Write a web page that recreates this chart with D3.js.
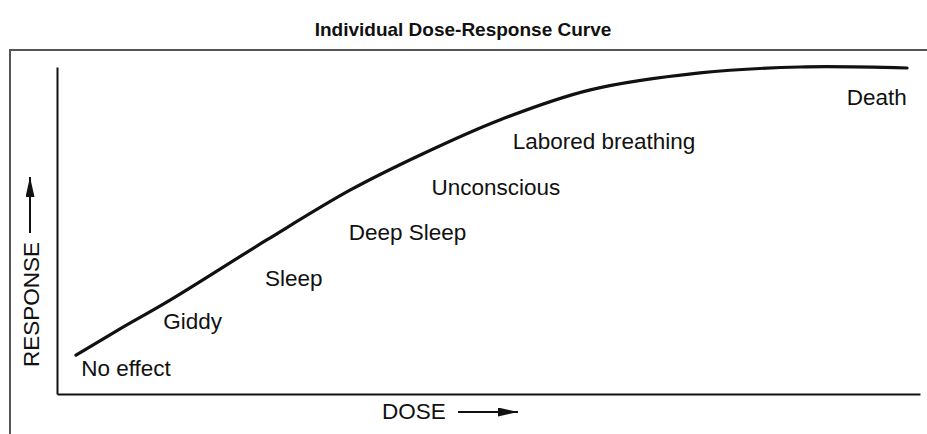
<!DOCTYPE html>
<html>
<head>
<meta charset="utf-8">
<script src="https://cdn.jsdelivr.net/npm/d3@7"></script>
<style>
  body { margin:0; background:#fff; }
  svg text { font-family: "Liberation Sans", Arial, sans-serif; fill:#111; }
</style>
</head>
<body>
<div id="chart"></div>
<script>
// curve: dose (0-100) vs response (0-100)
let doses     = [2.2, 7.3, 13.1, 24.3, 34.0, 42.1, 51.3, 61.8, 74.5, 86.1, 98.5];
let responses = [11.9, 19.9, 28.7, 47.1, 62.4, 73.1, 83.8, 93.0, 98.2, 100, 99.7];

// stage labels, anchored at their left/baseline in dose/response units
let stageNames     = ["No effect","Giddy","Sleep","Deep Sleep","Unconscious","Labored breathing","Death"];
let stageDoses     = [2.8, 12.3, 24.1, 33.8, 43.4, 52.8, 91.5];
let stageResponses = [5.5, 19.9, 33.0, 47.1, 60.9, 75.0, 88.4];

let title = "Individual Dose-Response Curve";

let containerWidth = 927, containerHeight = 434;
let margin = {left:57, right:7, top:67, bottom:40},
    width = containerWidth - margin.left - margin.right,
    height = containerHeight - margin.top - margin.bottom;

let root = d3.select("#chart")
    .append("svg")
    .attr("width",containerWidth)
    .attr("height",containerHeight);

//title
root.append("text")
    .attr("x",463)
    .attr("y",36)
    .attr("text-anchor","middle")
    .style("font-weight","bold")
    .style("font-size","19px")
    .text(title);

//frame round the figure
root.append("path")
    .attr("d","M10,"+containerHeight+"V50H"+containerWidth)
    .attr("fill","none")
    .attr("stroke","#555")
    .attr("stroke-width",2);

let svg = root.append("g")
    .attr("transform","translate("+margin.left+","+margin.top+")");

//define scale
let xScale = d3.scaleLinear().domain([0,100]).range([0,width]);
let yScale = d3.scaleLinear().domain([0,100]).range([height,0]);

//axes without ticks
let xAxis = d3.axisBottom(xScale).tickValues([]).tickSizeOuter(0);
let yAxis = d3.axisLeft(yScale).tickValues([]).tickSizeOuter(0);

svg.append("g")
   .attr("class","x axis")
   .attr("transform","translate(0,"+height+")")
   .call(xAxis);
svg.append("g")
   .attr("class","y axis")
   .call(yAxis);
svg.selectAll(".axis path")
   .attr("stroke","#111")
   .attr("stroke-width",2);

//curve
let data = doses.map(function(d,i){ return {dose:d, response:responses[i]}; });
let line = d3.line()
    .x(function(d){ return xScale(d.dose); })
    .y(function(d){ return yScale(d.response); })
    .curve(d3.curveCatmullRom.alpha(0.5));

svg.append("path")
   .datum(data)
   .attr("d",line)
   .attr("fill","none")
   .attr("stroke","#111")
   .attr("stroke-width",3.2)
   .attr("stroke-linecap","round");

//stage labels
svg.selectAll(".stage")
   .data(stageNames)
   .enter()
   .append("text")
   .attr("class","stage")
   .attr("x",function(d,i){ return xScale(stageDoses[i]); })
   .attr("y",function(d,i){ return yScale(stageResponses[i]); })
   .style("font-size","22.5px")
   .text(function(d){ return d; });

//axis titles with arrows
root.append("defs").append("marker")
    .attr("id","arrow")
    .attr("viewBox","0 0 10 10")
    .attr("refX",10).attr("refY",5)
    .attr("markerWidth",10).attr("markerHeight",4.5)
    .attr("markerUnits","strokeWidth")
    .attr("orient","auto")
    .attr("preserveAspectRatio","none")
    .append("path")
    .attr("d","M0,0L10,5L0,10Z")
    .attr("fill","#111");

root.append("text")
    .attr("x",382)
    .attr("y",419)
    .style("font-size","22.5px")
    .text("DOSE");
root.append("line")
    .attr("x1",458).attr("y1",412)
    .attr("x2",518).attr("y2",412)
    .attr("stroke","#111")
    .attr("stroke-width",2)
    .attr("marker-end","url(#arrow)");

root.append("text")
    .attr("transform","translate(39,367) rotate(-90)")
    .style("font-size","22.5px")
    .text("RESPONSE");
root.append("line")
    .attr("x1",30).attr("y1",233)
    .attr("x2",30).attr("y2",177)
    .attr("stroke","#111")
    .attr("stroke-width",2)
    .attr("marker-end","url(#arrow)");
</script>
</body>
</html>
